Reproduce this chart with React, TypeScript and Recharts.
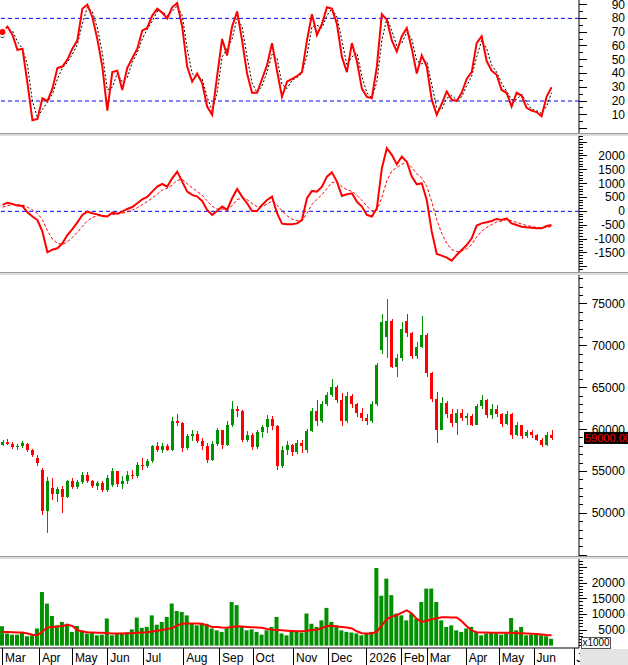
import React from 'react';
import { ComposedChart, Line, Bar, XAxis, YAxis, ReferenceLine } from 'recharts';

// price candles, one slot per ~3 trading sessions (Mar 2025 -> Jun 2026)
const opens = [58200, 58500, 58300, 57900, 58000, 58300, 57500, 56600, 55200, 50300,
  53000, 52300, 52900, 52000, 53800, 53200, 53700, 54600, 53800, 53300,
  53600, 52800, 53400, 55000, 53500, 53900, 54600, 54400, 55800, 55600,
  56200, 58000, 57600, 58000, 57600, 61000, 60800, 57800, 59200, 59500,
  58600, 58000, 56400, 58300, 59900, 58200, 60500, 62500, 62200, 58800,
  59300, 57900, 59700, 60300, 61300, 60400, 55600, 57600, 58200, 57300,
  58400, 57600, 59800, 62200, 61000, 63000, 64100, 65100, 63500, 61000,
  64000, 63000, 62000, 61400, 61000, 63000, 69500, 71000, 73000, 67500,
  68600, 73000, 71500, 68800, 69900, 71300, 66800, 63700, 60000, 63200,
  61800, 60800, 62000, 61400, 61600, 60600, 62800, 63500, 61700, 62400,
  61800, 60700, 61900, 59400, 60500, 59200, 59700, 59300, 58800, 58200,
  59400];
const highs = [58700, 58900, 58500, 58300, 58600, 58400, 57700, 57000, 55400, 54300,
  54200, 53200, 53300, 54000, 54200, 54000, 54900, 54900, 54000, 53900,
  53800, 54600, 55400, 55100, 54400, 55000, 55200, 56100, 56600, 56500,
  58200, 58500, 58400, 58300, 61500, 61800, 60900, 59500, 59900, 59800,
  59000, 58400, 58600, 60200, 60000, 61000, 63400, 62800, 62300, 59800,
  59600, 60000, 60600, 61700, 61600, 60500, 58000, 58600, 58300, 58700,
  58800, 60100, 62600, 63500, 63400, 64500, 66000, 65300, 64400, 64500,
  64300, 63200, 62600, 61800, 63400, 68000, 73800, 75600, 73200, 69000,
  72800, 73800, 71700, 70500, 73600, 71500, 66900, 64500, 63900, 63400,
  62400, 62500, 62500, 62000, 61900, 63000, 64100, 63600, 63000, 62900,
  62000, 62200, 62000, 60900, 60600, 60000, 59900, 59500, 59000, 59700,
  60000];
const lows = [58000, 58100, 57700, 57500, 57800, 57300, 56700, 55700, 49800, 47600,
  51600, 51300, 50000, 51800, 52900, 52900, 53500, 53600, 53000, 52800,
  52600, 52600, 53200, 53200, 52900, 53500, 54100, 54200, 55200, 55400,
  56000, 57300, 57200, 57400, 57400, 60400, 57300, 57600, 58600, 58400,
  57600, 56000, 56200, 58000, 57700, 58000, 60300, 61500, 58500, 58500,
  57600, 57700, 59000, 59600, 60000, 55200, 55400, 57000, 56800, 57100,
  57200, 57200, 59700, 60400, 60800, 62800, 63900, 63200, 60400, 60800,
  62600, 61500, 61000, 60600, 60800, 62800, 69000, 68600, 67300, 66300,
  68200, 71000, 68400, 68400, 69700, 66300, 63300, 58400, 59900, 61400,
  60300, 59300, 61000, 60500, 60400, 60500, 62400, 61400, 61300, 61500,
  60300, 60500, 58900, 59200, 58900, 59000, 59000, 58600, 57900, 58000,
  58800];
const closes = [58500, 58300, 57900, 58000, 58400, 57500, 57000, 56000, 50300, 53900,
  52300, 52900, 52000, 53800, 53200, 53700, 54600, 53800, 53300, 53600,
  52800, 54200, 55000, 53500, 53900, 54600, 54400, 55800, 55600, 56200,
  58000, 57600, 58000, 57500, 61000, 60800, 57800, 59200, 59500, 58600,
  58000, 56400, 58300, 59900, 58200, 60500, 62500, 62200, 58800, 59300,
  57900, 59700, 60300, 61300, 60400, 55600, 57600, 58200, 57300, 58400,
  58000, 59800, 62200, 61000, 63000, 64100, 65100, 63500, 61000, 64000,
  63000, 62000, 61400, 61000, 63000, 67700, 72800, 73000, 67500, 68600,
  72000, 71500, 68800, 69900, 71300, 66800, 63700, 60000, 63200, 61800,
  60800, 62000, 61400, 61600, 60600, 62800, 63500, 61700, 62400, 61800,
  60700, 61900, 59400, 60500, 59200, 59700, 59300, 58800, 58200, 59400,
  59000];

// volume (x1000) and its moving average
const volumes = [6200, 3900, 3500, 3500, 4200, 3000, 3300, 5500, 17200, 13500,
  9500, 6500, 7600, 7000, 4400, 6300, 4900, 3900, 4200, 3300,
  3500, 8700, 3300, 3700, 4100, 4200, 5200, 9000, 5700, 6000,
  9700, 6700, 7600, 9200, 13500, 11100, 10800, 9700, 7000, 6500,
  7000, 7000, 5500, 4900, 4400, 5500, 14000, 13000, 6000, 4900,
  5200, 4400, 3500, 4900, 6000, 9200, 3900, 3300, 4600, 4400,
  4200, 10300, 7000, 6000, 8100, 12100, 7600, 6500, 4900, 4400,
  4200, 3900, 3300, 3900, 4400, 24900, 16000, 21500, 16200, 10300,
  9700, 8100, 10300, 8700, 14000, 18300, 18300, 14000, 8100, 6000,
  6500, 4900, 4400, 5500, 6000, 4400, 3300, 3900, 4200, 3900,
  3500, 3900, 8900, 4900, 6000, 3300, 3500, 3900, 3300, 3000,
  2200];
const volumeMa = [4400, 4400, 4300, 4200, 4200, 3900, 3500, 3300, 4500, 5800,
  6000, 6100, 6300, 6700, 6300, 5000, 4500, 4300, 4200, 4100,
  4100, 4000, 3900, 3900, 3900, 4000, 4000, 4100, 4200, 4300,
  4500, 4800, 5000, 5300, 5600, 6500, 7000, 7100, 7100, 7100,
  7000, 6500, 6000, 6000, 5800, 5700, 6000, 6200, 6100, 6000,
  5900, 5800, 5700, 5300, 5100, 5000, 4900, 4800, 4700, 4600,
  4600, 4800, 5000, 5100, 5600, 6300, 6400, 6100, 6000, 5800,
  5500, 4600, 4000, 3900, 3900, 4500, 6500, 8500, 9300, 9800,
  10600, 11300, 10300, 8600, 7600, 8000, 8500, 8800, 9100, 9100,
  9000, 9000, 7800, 6200, 4900, 4300, 4200, 4200, 4100, 4100,
  4100, 4100, 4100, 4000, 4000, 3900, 3800, 3700, 3600, 3400,
  3300];

// stochastic %K and %D
const stochK = [70, 74, 68, 57, 58, 33, 6, 7, 22, 20,
  29, 44, 45, 50, 58, 64, 87, 90, 81, 65,
  45, 13, 41, 42, 28, 44, 51, 58, 71, 73,
  82, 87, 84, 80, 88, 91, 74, 45, 34, 40,
  33, 16, 10, 38, 65, 53, 74, 85, 64, 40,
  26, 26, 36, 46, 62, 42, 23, 34, 36, 38,
  41, 64, 83, 68, 76, 88, 87, 76, 52, 41,
  62, 49, 29, 23, 22, 45, 83, 79, 64, 56,
  67, 73, 58, 40, 53, 45, 21, 10, 18, 27,
  21, 20, 26, 36, 41, 62, 67, 49, 42, 39,
  28, 26, 16, 26, 24, 15, 13, 12, 9, 23,
  30];
const stochD = [68, 71, 71, 63, 58, 46, 20, 8, 14, 19,
  25, 36, 44, 48, 54, 61, 76, 88, 85, 73,
  55, 28, 30, 40, 34, 37, 48, 55, 65, 72,
  78, 85, 85, 82, 85, 89, 82, 58, 40, 37,
  36, 23, 13, 26, 52, 58, 65, 80, 74, 52,
  33, 26, 31, 41, 54, 51, 32, 29, 35, 37,
  40, 53, 74, 75, 73, 82, 87, 81, 64, 46,
  52, 55, 38, 26, 22, 34, 64, 80, 71, 60,
  62, 70, 65, 49, 47, 49, 32, 15, 14, 22,
  24, 21, 23, 31, 38, 52, 64, 58, 46, 41,
  33, 27, 21, 21, 25, 19, 14, 13, 11, 16,
  26];

// MACD and signal
const macdLine = [230, 310, 265, 205, 190, -35, -190, -315, -735, -1480,
  -1385, -1335, -1155, -855, -640, -400, -130, -10, -70, -110,
  -170, -190, -50, -85, -10, 85, 155, 290, 435, 515,
  710, 890, 985, 890, 1190, 1430, 1070, 710, 590, 530,
  375, 50, -130, 10, 170, 50, 470, 805, 530, 290,
  10, 10, 230, 410, 530, -70, -445, -470, -470, -435,
  -315, 470, 735, 710, 890, 1250, 1410, 1070, 555, 615,
  650, 350, 170, -130, -190, 110, 1550, 2275, 2035, 1695,
  1975, 1790, 1250, 975, 1010, 410, -735, -1540, -1600, -1670,
  -1780, -1575, -1395, -1215, -975, -515, -435, -395, -350, -275,
  -315, -255, -435, -495, -555, -575, -590, -615, -615, -530,
  -495];
const macdSignal = [150, 200, 240, 240, 225, 150, 50, -80, -300, -700,
  -1000, -1150, -1200, -1100, -950, -750, -550, -350, -220, -160,
  -150, -160, -120, -100, -70, -20, 40, 130, 240, 350,
  480, 620, 760, 830, 950, 1120, 1150, 1000, 850, 720,
  580, 380, 180, 80, 80, 70, 200, 420, 480, 420,
  280, 170, 170, 260, 370, 230, 20, -160, -280, -340,
  -340, -70, 250, 430, 600, 820, 1040, 1060, 890, 780,
  720, 580, 400, 180, 20, 40, 500, 1100, 1450, 1580,
  1700, 1760, 1580, 1350, 1200, 900, 350, -300, -800, -1150,
  -1380, -1460, -1430, -1350, -1200, -920, -720, -580, -480, -390,
  -350, -300, -340, -400, -460, -510, -550, -580, -600, -575,
  -550];

// x axis: month boundaries (in slots) and their labels
const monthStarts = [0.4, 7.8, 14.4, 21.5, 28.6, 36.7, 43.9, 50.6, 58.7, 65.7, 73.4, 80.3, 85.5, 93.3, 99.9, 106.9, 114.9];
const monthLabels = ['Mar', 'Apr', 'May', 'Jun', 'Jul', 'Aug', 'Sep', 'Oct', 'Nov', 'Dec', '2026', 'Feb', 'Mar', 'Apr', 'May', 'Jun', 'Jul'];

// y axis labels
const stochLabels = [10, 20, 30, 40, 50, 60, 70, 80, 90];
const macdLabels = [-1500, -1000, -500, 0, 500, 1000, 1500, 2000];
const priceLabels = [50000, 55000, 60000, 65000, 70000, 75000];
const volumeLabels = [5000, 10000, 15000, 20000];

const SLOTS = 116;
const W = 628;
const AXIS_W = 49;
const FONT = '"Liberation Sans", Arial, sans-serif';
const GREEN = '#009000';
const RED = '#ff0000';

const steps = (from: number, to: number, step: number) => {
  const out: number[] = [];
  for (let v = from; v <= to; v += step) out.push(v);
  return out;
};

const data = closes.map((c, i) => ({
  x: i + 0.5,
  open: opens[i],
  high: highs[i],
  low: lows[i],
  close: c,
  range: [lows[i], highs[i]],
  vol: volumes[i],
  volMa: volumeMa[i],
  k: stochK[i],
  d: stochD[i],
  macd: macdLine[i],
  signal: macdSignal[i],
}));

const axisTick = (labels: number[], majorStep: number) => (props: any) => {
  const { x, y, payload } = props;
  const v = payload.value;
  const major = Math.abs(v % majorStep) < 1e-6;
  return (
    <g>
      <line x1={x} x2={x + (major ? 8 : 4)} y1={y} y2={y} stroke="#000" shapeRendering="crispEdges" />
      {labels.includes(v) && (
        <text x={x + 46} y={y} dy={4} textAnchor="end" fontSize={12} fontFamily={FONT} fill="#000">
          {v}
        </text>
      )}
    </g>
  );
};

const MonthTick = (props: any) => {
  const { x, y, payload } = props;
  const idx = monthStarts.indexOf(payload.value);
  return (
    <g>
      <line x1={Math.round(x) + 0.5} x2={Math.round(x) + 0.5} y1={y} y2={y + 17} stroke="#000" />
      <text x={x + 3} y={y + 14} fontSize={12} fontFamily={FONT} fill="#000">
        {monthLabels[idx]}
      </text>
    </g>
  );
};

const Candle = (props: any) => {
  const { x, y, width, height, payload } = props;
  if (!payload || height == null) return null;
  const { open, close, high, low } = payload;
  const color = close >= open ? GREEN : RED;
  const k = height / Math.max(high - low, 1);
  const top = y + (high - Math.max(open, close)) * k;
  const bh = Math.max(1, Math.abs(close - open) * k);
  const cx = Math.round(x + width / 2) + 0.5;
  return (
    <g shapeRendering="crispEdges">
      <line x1={cx} x2={cx} y1={y} y2={y + height} stroke={color} strokeWidth={1} />
      <rect x={Math.round(x)} y={top} width={width} height={bh} fill={color} />
    </g>
  );
};

const PriceTag = (props: any) => {
  const { viewBox } = props;
  if (!viewBox) return null;
  const x = viewBox.x + viewBox.width + 5;
  const y = viewBox.y;
  return (
    <g>
      <rect x={x} y={y - 6} width={50} height={12} fill="#000" />
      <text x={x + 1} y={y} dy={4} fontSize={11} fontFamily={FONT} fill={RED}>
        {closes[closes.length - 1].toFixed(2)}
      </text>
    </g>
  );
};

const Separator = ({ top }: { top: number }) => (
  <div style={{ position: 'absolute', left: 0, top, width: W, height: 3, background: '#dcdcdc', borderTop: '1px solid #9c9c9c', boxSizing: 'border-box' }} />
);

const margin = { top: 0, right: 0, bottom: 0, left: 0 };

const hiddenX = <XAxis dataKey="x" type="number" domain={[0, SLOTS]} allowDataOverflow hide />;

const App = () => {
  return (
    <div style={{ position: 'relative', width: W, height: 665, background: '#fff', overflow: 'hidden', fontFamily: FONT }}>
      <style>{'body{margin:0}'}</style>

      <div style={{ position: 'absolute', left: 0, top: 0 }}>
        <ComposedChart width={W} height={133} data={data} margin={margin}>
          {hiddenX}
          <YAxis orientation="right" width={AXIS_W} domain={[-3.2, 93.3]} allowDataOverflow
            ticks={steps(0, 90, 5)} interval={0} tickSize={0} tickMargin={0} tickLine={false}
            axisLine={{ stroke: '#000' }} tick={axisTick(stochLabels, 10)} />
          <ReferenceLine y={80} stroke="#0000ff" strokeDasharray="4 3" />
          <ReferenceLine y={20} stroke="#0000ff" strokeDasharray="4 3" />
          <Line dataKey="d" type="linear" stroke="#000" strokeWidth={1} strokeDasharray="2 2" dot={false} isAnimationActive={false} />
          <Line dataKey="k" type="linear" stroke={RED} strokeWidth={2} dot={false} isAnimationActive={false} />
        </ComposedChart>
      </div>
      <Separator top={133} />

      <div style={{ position: 'absolute', left: 0, top: 136 }}>
        <ComposedChart width={W} height={136} data={data} margin={margin}>
          {hiddenX}
          <YAxis orientation="right" width={AXIS_W} domain={[-2190, 2717]} allowDataOverflow
            ticks={steps(-2100, 2700, 100)} interval={0} tickSize={0} tickMargin={0} tickLine={false}
            axisLine={{ stroke: '#000' }} tick={axisTick(macdLabels, 500)} />
          <ReferenceLine y={0} stroke="#0000ff" strokeDasharray="4 3" />
          <Line dataKey="signal" type="linear" stroke={RED} strokeWidth={1} strokeDasharray="3 2" dot={false} isAnimationActive={false} />
          <Line dataKey="macd" type="linear" stroke={RED} strokeWidth={2} dot={false} isAnimationActive={false} />
        </ComposedChart>
      </div>
      <Separator top={272} />

      <div style={{ position: 'absolute', left: 0, top: 275 }}>
        <ComposedChart width={W} height={281} data={data} margin={margin}>
          {hiddenX}
          <YAxis orientation="right" width={AXIS_W} domain={[44900, 78460]} allowDataOverflow
            ticks={steps(45000, 78000, 1000)} interval={0} tickSize={0} tickMargin={0} tickLine={false}
            axisLine={{ stroke: '#000' }} tick={axisTick(priceLabels, 5000)} />
          <Bar dataKey="range" barSize={3} shape={(p: any) => <Candle {...p} />} isAnimationActive={false} />
          <ReferenceLine y={closes[closes.length - 1]} stroke="none" label={<PriceTag />} />
        </ComposedChart>
      </div>
      <Separator top={556} />

      <div style={{ position: 'absolute', left: 0, top: 559 }}>
        <ComposedChart width={W} height={106} data={data} margin={margin}>
          <XAxis dataKey="x" type="number" domain={[0, SLOTS]} allowDataOverflow height={17}
            ticks={monthStarts} interval={0} tickSize={0} tickMargin={0} tickLine={false}
            axisLine={{ stroke: '#000' }} tick={<MonthTick />} />
          <YAxis orientation="right" width={AXIS_W} domain={[-770, 27800]} allowDataOverflow
            ticks={steps(0, 27000, 1000)} interval={0} tickSize={0} tickMargin={0} tickLine={false}
            axisLine={{ stroke: '#000' }} tick={axisTick(volumeLabels, 5000)} />
          <Bar dataKey="vol" barSize={4} fill={GREEN} isAnimationActive={false} />
          <Line dataKey="volMa" type="linear" stroke={RED} strokeWidth={2} dot={false} isAnimationActive={false} />
        </ComposedChart>
      </div>

      <div style={{ position: 'absolute', left: 580, top: 649, width: 48, height: 16, background: '#e4e4e4' }} />
      <div style={{ position: 'absolute', left: 581, top: 637, width: 30, height: 12, background: '#fff', border: '1px solid #555', boxSizing: 'border-box', fontSize: 10, lineHeight: '10px', color: '#000', textAlign: 'center' }}>
        x1000
      </div>
    </div>
  );
};

export default App;
